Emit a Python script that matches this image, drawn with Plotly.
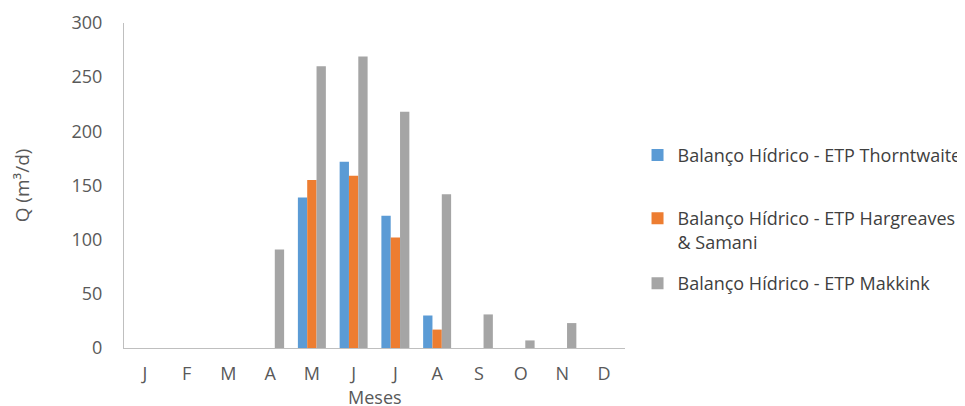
import plotly.graph_objects as go

months = ["J", "F", "M", "A", "M", "J", "J", "A", "S", "O", "N", "D"]
thornthwaite = [0, 0, 0, 0, 139, 172, 122, 30, 0, 0, 0, 0]
hargreaves = [0, 0, 0, 0, 155, 159, 102, 17, 0, 0, 0, 0]
makkink = [0, 0, 0, 91, 260, 269, 218, 142, 31, 7, 23, 0]
y_ticks = [0, 50, 100, 150, 200, 250, 300]

names = [
    "Balanço Hídrico - ETP Thorntwaite",
    "Balanço Hídrico - ETP Hargreaves<br>& Samani",
    "Balanço Hídrico - ETP Makkink",
]
colors = ["#5B9BD5", "#ED7D31", "#A5A5A5"]
series = [thornthwaite, hargreaves, makkink]
legend_ids = ["legend", "legend2", "legend3"]
legend_y = [0.65, 0.455, 0.255]

x_idx = list(range(len(months)))

fig = go.Figure()
for nm, col, vals, lid in zip(names, colors, series, legend_ids):
    fig.add_trace(go.Bar(
        x=x_idx, y=vals, name=nm, marker=dict(color=col, line=dict(width=0)),
        legend=lid,
    ))

font_family = "Open Sans, Liberation Sans, sans-serif"
legend_font = dict(family=font_family, size=18, color="#404040")

layout_legends = {}
for lid, ly in zip(legend_ids, legend_y):
    layout_legends[lid] = dict(
        x=1.025, xanchor="left", y=ly, yanchor="top", valign="top",
        font=legend_font, itemwidth=30, bgcolor="rgba(0,0,0,0)",
    )

fig.update_layout(
    width=957, height=398,
    margin=dict(l=116, r=340, t=15, b=58, autoexpand=False),
    plot_bgcolor="white", paper_bgcolor="white",
    barmode="group", bargap=0.33, bargroupgap=0,
    font=dict(family=font_family, size=16, color="#595959"),
    showlegend=True,
    xaxis=dict(
        tickmode="array", tickvals=x_idx, ticktext=months,
        range=[-0.5, 11.5], showgrid=False, zeroline=False,
        showline=True, linecolor="#BFBFBF", linewidth=1,
        ticks="", ticklabelstandoff=9, automargin=False,
        tickfont=dict(size=18, color="#595959"),
    ),
    yaxis=dict(
        range=[0, 300], tickvals=y_ticks, showgrid=False, zeroline=False,
        showline=True, linecolor="#BFBFBF", linewidth=1,
        ticks="", ticklabelstandoff=17, automargin=False,
        tickfont=dict(size=18, color="#595959"),
        title=dict(text="Q (m³/d)", standoff=36, font=dict(size=19, color="#595959")),
    ),
    annotations=[dict(
        text="Meses", xref="paper", yref="paper", x=0.5, y=-0.152,
        xanchor="center", yanchor="middle", showarrow=False,
        font=dict(family=font_family, size=18, color="#595959"),
    )],
    **layout_legends,
)

fig.write_html("out.html")
